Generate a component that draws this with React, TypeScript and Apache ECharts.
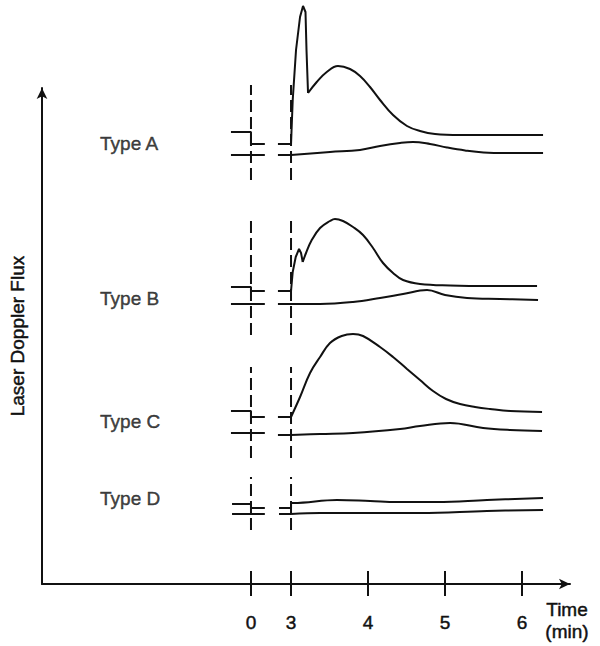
import React, { useEffect, useRef } from 'react';
import * as echarts from 'echarts';

type Pt = [number, number];

// Broken time axis: positions >= 3 are minutes; the "0" mark sits at ZERO_AT on the compressed part.
const ZERO_AT = 2.48;
const tickValues = [ZERO_AT, 3, 4, 5, 6];
const tickLabels = ['0', '3', '4', '5', '6'];

// ---------- Type A ----------
const aUpperPre: Pt[] = [[2.22, 452], [2.48, 452], [2.48, 440], [2.66, 440]];
const aUpperMid: Pt[] = [[2.83, 440], [3.0, 440]];
const aUpperSpike: Pt[] = [[3.0, 440], [3.022, 484], [3.065, 534], [3.117, 567], [3.156, 578], [3.188, 572], [3.201, 534], [3.221, 491]];
const aUpperResp: Pt[] = [[3.221, 491], [3.334, 502], [3.464, 512], [3.61, 518], [3.766, 515], [3.896, 508], [4.026, 497], [4.156, 484], [4.325, 469], [4.506, 458], [4.675, 453], [4.87, 450], [5.195, 449], [5.714, 449], [6.273, 449]];
const aLowerPre: Pt[] = [[2.22, 429], [2.66, 429]];
const aLowerMid: Pt[] = [[2.83, 429], [3.0, 429]];
const aLowerResp: Pt[] = [[3.0, 429], [3.506, 432], [3.896, 434], [4.156, 438], [4.416, 441], [4.584, 442], [4.805, 440], [5.026, 436.5], [5.26, 433.5], [5.5, 431.5], [5.8, 431], [6.273, 431]];

// ---------- Type B ----------
const bUpperPre: Pt[] = [[2.22, 297], [2.48, 297], [2.48, 293], [2.66, 293]];
const bUpperMid: Pt[] = [[2.83, 293], [3.0, 293]];
const bUpperSpike: Pt[] = [[3.0, 293], [3.022, 312], [3.061, 327], [3.104, 335], [3.13, 331], [3.152, 322]];
const bUpperResp: Pt[] = [[3.152, 322], [3.195, 331], [3.269, 344], [3.377, 356], [3.506, 363], [3.571, 365], [3.675, 363], [3.805, 357], [3.935, 349], [4.065, 336], [4.195, 321], [4.325, 311], [4.455, 304], [4.675, 300], [5.065, 298.5], [5.6, 298], [6.195, 298]];
const bLowerPre: Pt[] = [[2.22, 280], [2.66, 280]];
const bLowerMid: Pt[] = [[2.83, 280], [3.0, 280]];
const bLowerResp: Pt[] = [[3.0, 280], [3.377, 280], [3.805, 282], [4.156, 286], [4.455, 290], [4.766, 294], [5.0, 289], [5.286, 286], [5.714, 285], [6.208, 284]];

// ---------- Type C ----------
const cUpperPre: Pt[] = [[2.22, 173], [2.48, 173], [2.48, 167], [2.66, 167]];
const cUpperMid: Pt[] = [[2.83, 167], [3.0, 167]];
const cUpperResp: Pt[] = [[3.0, 167], [3.117, 187], [3.247, 211], [3.377, 227], [3.506, 241], [3.658, 248], [3.805, 250], [3.935, 248], [4.156, 237], [4.325, 227], [4.506, 215], [4.675, 204], [4.844, 193], [5.013, 185], [5.195, 180], [5.39, 177], [5.584, 175], [5.844, 173], [6.26, 172]];
const cLowerPre: Pt[] = [[2.22, 151], [2.66, 151]];
const cLowerMid: Pt[] = [[2.83, 149], [3.0, 149]];
const cLowerResp: Pt[] = [[3.0, 149], [3.377, 150], [3.805, 151], [4.416, 155], [4.675, 158], [5.065, 161], [5.494, 156], [5.844, 154], [6.26, 153]];

// ---------- Type D ----------
const dUpperPre: Pt[] = [[2.234, 80], [2.48, 80], [2.48, 76], [2.66, 76]];
const dUpperMid: Pt[] = [[2.844, 76], [3.0, 76], [3.0, 81]];
const dUpperResp: Pt[] = [[3.0, 81], [3.026, 81], [3.597, 84], [4.026, 83], [4.377, 82], [4.896, 82], [5.545, 84], [6.273, 86]];
const dLowerPre: Pt[] = [[2.234, 70], [2.66, 70]];
const dLowerMid: Pt[] = [[2.844, 70], [3.0, 70]];
const dLowerResp: Pt[] = [[3.0, 70], [3.377, 71], [4.675, 71], [5.545, 73], [6.273, 74]];

// Dashed event markers (at t = 0 and t = 3 min), vertical extent per type
const markerTimes = [ZERO_AT, 3];
const markerSpans: Pt[] = [[404, 499], [249, 364], [126, 217], [54, 107]];

// Type labels
const typeNames = ['Type A', 'Type B', 'Type C', 'Type D'];
const typeLabelAt: Pt[] = [[0.52, 441], [0.52, 286], [0.52, 163], [0.52, 86]];

const X_MIN = -0.234;
const X_MAX = 6.623;
const Y_MAX = 496;

const INK = '#111111';
const FONT = '"Liberation Sans", Arial, Helvetica, sans-serif';
const FS = 19;
const BOLDEN = { textBorderColor: INK, textBorderWidth: 0.45 };

function lineSeries(data: Pt[], smooth: number | boolean) {
  return {
    type: 'line',
    data,
    smooth,
    symbol: 'none',
    clip: false,
    silent: true,
    lineStyle: { color: INK, width: 2 },
    z: 3,
  };
}

export default function App() {
  const ref = useRef<HTMLDivElement>(null);

  useEffect(() => {
    if (!ref.current) return;
    const chart = echarts.init(ref.current, null, { renderer: 'svg' });

    const linear: Pt[][] = [
      aUpperPre, aUpperMid, aUpperSpike, aLowerPre, aLowerMid,
      bUpperPre, bUpperMid, bUpperSpike, bLowerPre, bLowerMid,
      cUpperPre, cUpperMid, cLowerPre, cLowerMid,
      dUpperPre, dUpperMid, dLowerPre, dLowerMid,
    ];
    const smoothed: Pt[][] = [
      aUpperResp, aLowerResp, bUpperResp, bLowerResp,
      cUpperResp, cLowerResp, dUpperResp, dLowerResp,
    ];

    const series: any[] = [];
    linear.forEach((d) => series.push(lineSeries(d, false)));
    smoothed.forEach((d) => series.push(lineSeries(d, 0.4)));

    markerSpans.forEach(([lo, hi]) => {
      markerTimes.forEach((t) => {
        series.push({
          type: 'line',
          data: [[t, lo], [t, hi]],
          symbol: 'none',
          silent: true,
          clip: false,
          lineStyle: { color: INK, width: 2, type: [12, 5] },
          z: 2,
        });
      });
    });

    series.push({
      type: 'scatter',
      data: typeLabelAt.map((p, i) => [p[0], p[1], typeNames[i]]),
      symbolSize: 0,
      silent: true,
      label: {
        show: true,
        position: 'right',
        distance: 0,
        formatter: (p: any) => p.value[2],
        color: INK,
        fontSize: FS,
        fontFamily: FONT,
        ...BOLDEN,
      },
    });

    const labelFor = (v: number) => {
      const i = tickValues.findIndex((t) => Math.abs(t - v) < 1e-6);
      return i >= 0 ? tickLabels[i] : '';
    };

    chart.setOption({
      animation: false,
      backgroundColor: '#ffffff',
      textStyle: { fontFamily: FONT, color: INK },
      grid: { left: 42, right: 30, top: 88, bottom: 62, outerBoundsMode: 'none' },
      xAxis: [
        {
          type: 'value',
          min: X_MIN,
          max: X_MAX,
          position: 'bottom',
          axisLine: {
            show: true,
            onZero: false,
            symbol: ['none', 'arrow'],
            symbolSize: [8, 11],
            lineStyle: { color: INK, width: 2 },
          },
          axisTick: {
            show: true,
            customValues: tickValues,
            length: 12,
            lineStyle: { color: INK, width: 2 },
          },
          axisLabel: {
            show: true,
            customValues: tickValues,
            formatter: labelFor,
            margin: 29,
            fontSize: FS,
            color: INK,
            fontFamily: FONT,
            ...BOLDEN,
          },
          splitLine: { show: false },
        },
        {
          type: 'value',
          min: X_MIN,
          max: X_MAX,
          position: 'bottom',
          offset: 0,
          axisLine: { show: false, onZero: false },
          axisTick: {
            show: true,
            inside: true,
            customValues: tickValues,
            length: 13,
            lineStyle: { color: INK, width: 2 },
          },
          axisLabel: { show: false },
          splitLine: { show: false },
        },
      ],
      yAxis: {
        type: 'value',
        min: 0,
        max: Y_MAX,
        name: 'Laser Doppler Flux',
        nameLocation: 'middle',
        nameGap: 15,
        nameTextStyle: { fontSize: FS, color: INK, fontFamily: FONT, ...BOLDEN },
        axisLine: {
          show: true,
          onZero: false,
          symbol: ['none', 'arrow'],
          symbolSize: [8, 11],
          lineStyle: { color: INK, width: 2 },
        },
        axisTick: { show: false },
        axisLabel: { show: false },
        splitLine: { show: false },
      },
      graphic: [
        {
          type: 'text',
          x: 567,
          y: 598,
          style: {
            text: 'Time\n(min)',
            fill: INK,
            stroke: INK,
            lineWidth: 0.45,
            font: `${FS}px ${FONT}`,
            align: 'center',
            lineHeight: 22,
          },
        },
      ],
      series,
    });

    return () => chart.dispose();
  }, []);

  return (
    <div
      ref={ref}
      style={{ position: 'fixed', left: 0, top: 0, width: 600, height: 646, background: '#fff' }}
    />
  );
}
